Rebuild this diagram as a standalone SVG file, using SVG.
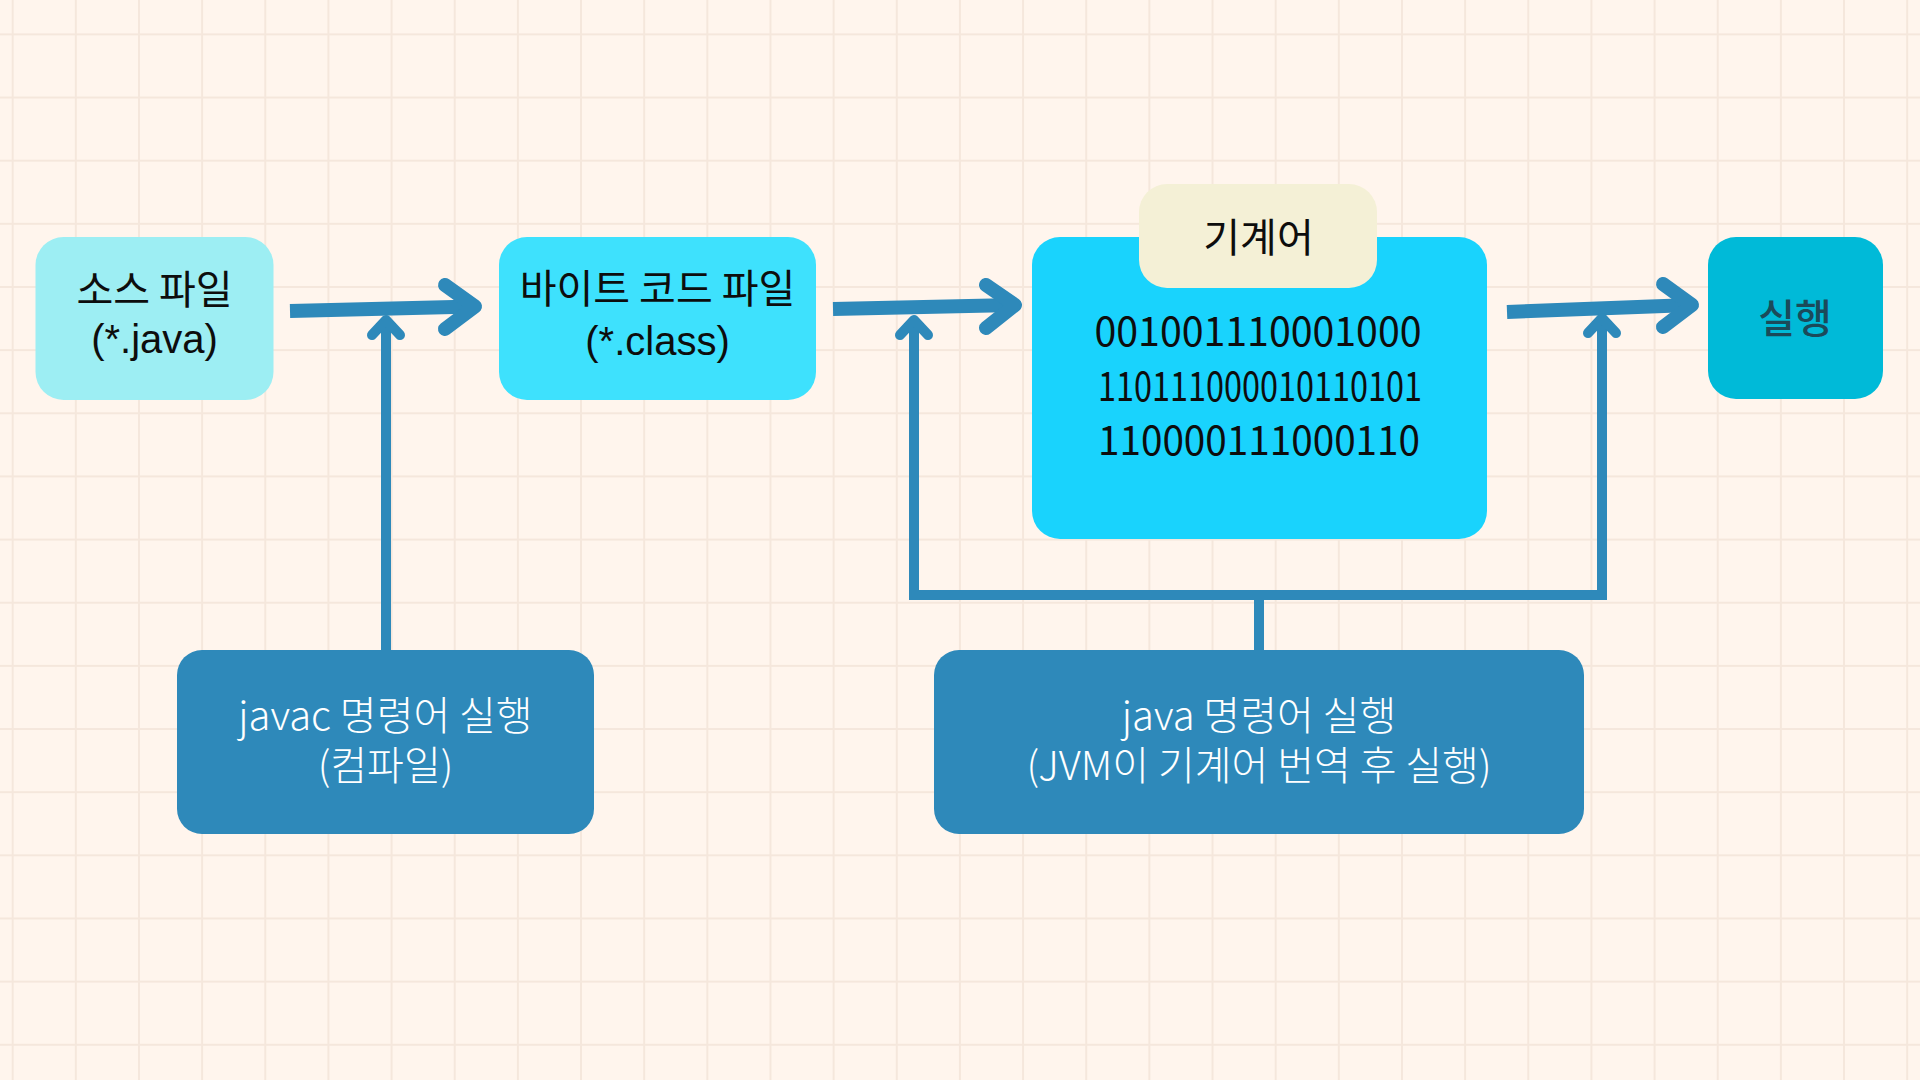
<svg xmlns="http://www.w3.org/2000/svg" width="1920" height="1080" viewBox="0 0 1920 1080">
  <defs>
    <pattern id="grid" x="-18.9" y="2.8" width="63.15" height="63.15" patternUnits="userSpaceOnUse">
      <path d="M31.6,0 V63.15 M0,31.6 H63.15" stroke="#F5E7DC" stroke-width="2" fill="none"/>
    </pattern>
    <style>
      .kr { font-family: "Noto Sans CJK KR", "Noto Sans", sans-serif; }
      .lat { font-family: "Liberation Sans", "Noto Sans CJK KR", sans-serif; }
      .dark { fill: #0d0d0d; }
      .white { fill: #ffffff; }
      .t40 { font-size: 40px; text-anchor: middle; }
      .light { font-weight: 300; }
      .conn { fill: none; stroke: #2E89BA; stroke-linejoin: round; }
      .main { stroke-width: 14; }
      .thin { stroke-width: 10; }
      .head { stroke-linecap: round; }
    </style>
  </defs>

  <rect x="0" y="0" width="1920" height="1080" fill="#FFF5ED"/>
  <rect x="0" y="0" width="1920" height="1080" fill="url(#grid)"/>

  <g id="connectors">
    <!-- source -> bytecode -->
    <path class="conn main" d="M290,311 L474,306.5"/>
    <path class="conn main head" d="M445,285 L475,306.5 L445,329"/>
    <!-- bytecode -> machine code -->
    <path class="conn main" d="M833,309 L1014,305"/>
    <path class="conn main head" d="M986,285 L1015,305 L986,328"/>
    <!-- machine code -> run -->
    <path class="conn main" d="M1507,312 L1691,305"/>
    <path class="conn main head" d="M1663,284 L1692,305 L1663,327"/>
    <!-- javac stem -->
    <path class="conn thin" d="M386,650 V322"/>
    <path class="conn thin head" d="M372,335 L386,320 L400,335"/>
    <!-- java bracket -->
    <path class="conn thin" style="stroke-linejoin:miter" d="M914,322 V595 H1602 V320"/>
    <path class="conn thin" d="M1259,595 V650"/>
    <path class="conn thin head" d="M900,335 L914,320 L928,335"/>
    <path class="conn thin head" d="M1588,333 L1602,318 L1616,333"/>
  </g>

  <g id="node-source">
    <rect x="35.5" y="237" width="238" height="163" rx="28" fill="#9DEEF3"/>
    <text class="kr dark t40" x="154.5" y="304">소스 파일</text>
    <text class="lat dark t40" x="154.5" y="353">(*.java)</text>
  </g>

  <g id="node-bytecode">
    <rect x="499" y="237" width="317" height="163" rx="28" fill="#3EE1FD"/>
    <text class="kr dark t40" x="657.5" y="303">바이트 코드 파일</text>
    <text class="lat dark t40" x="657.5" y="355">(*.class)</text>
  </g>

  <g id="node-machine">
    <rect x="1032" y="237" width="455" height="302" rx="28" fill="#19D3FD"/>
    <text class="kr dark t40" x="1258" y="346" textLength="327" lengthAdjust="spacingAndGlyphs">001001110001000</text>
    <text class="kr dark t40" x="1260" y="400.5" textLength="324" lengthAdjust="spacingAndGlyphs">110111000010110101</text>
    <text class="kr dark t40" x="1259" y="455" textLength="322" lengthAdjust="spacingAndGlyphs">110000111000110</text>
  </g>

  <g id="node-machine-label">
    <rect x="1139" y="184" width="238" height="104" rx="28" fill="#F4F0D6"/>
    <text class="kr dark t40" x="1258.5" y="252">기계어</text>
  </g>

  <g id="node-run">
    <rect x="1708" y="237" width="175" height="162" rx="28" fill="#00BAD8"/>
    <text class="kr t40" x="1795" y="333" fill="#1B4A5A" font-weight="500">실행</text>
  </g>

  <g id="node-javac">
    <rect x="177" y="650" width="417" height="184" rx="25" fill="#2E89BA"/>
    <text class="kr white t40 light" x="385.5" y="730">javac 명령어 실행</text>
    <text class="kr white t40 light" x="385.5" y="780">(컴파일)</text>
  </g>

  <g id="node-java">
    <rect x="934" y="650" width="650" height="184" rx="25" fill="#2E89BA"/>
    <text class="kr white t40 light" x="1259" y="730">java 명령어 실행</text>
    <text class="kr white t40 light" x="1259" y="780" font-size="38">(JVM이 기계어 번역 후 실행)</text>
  </g>
</svg>
